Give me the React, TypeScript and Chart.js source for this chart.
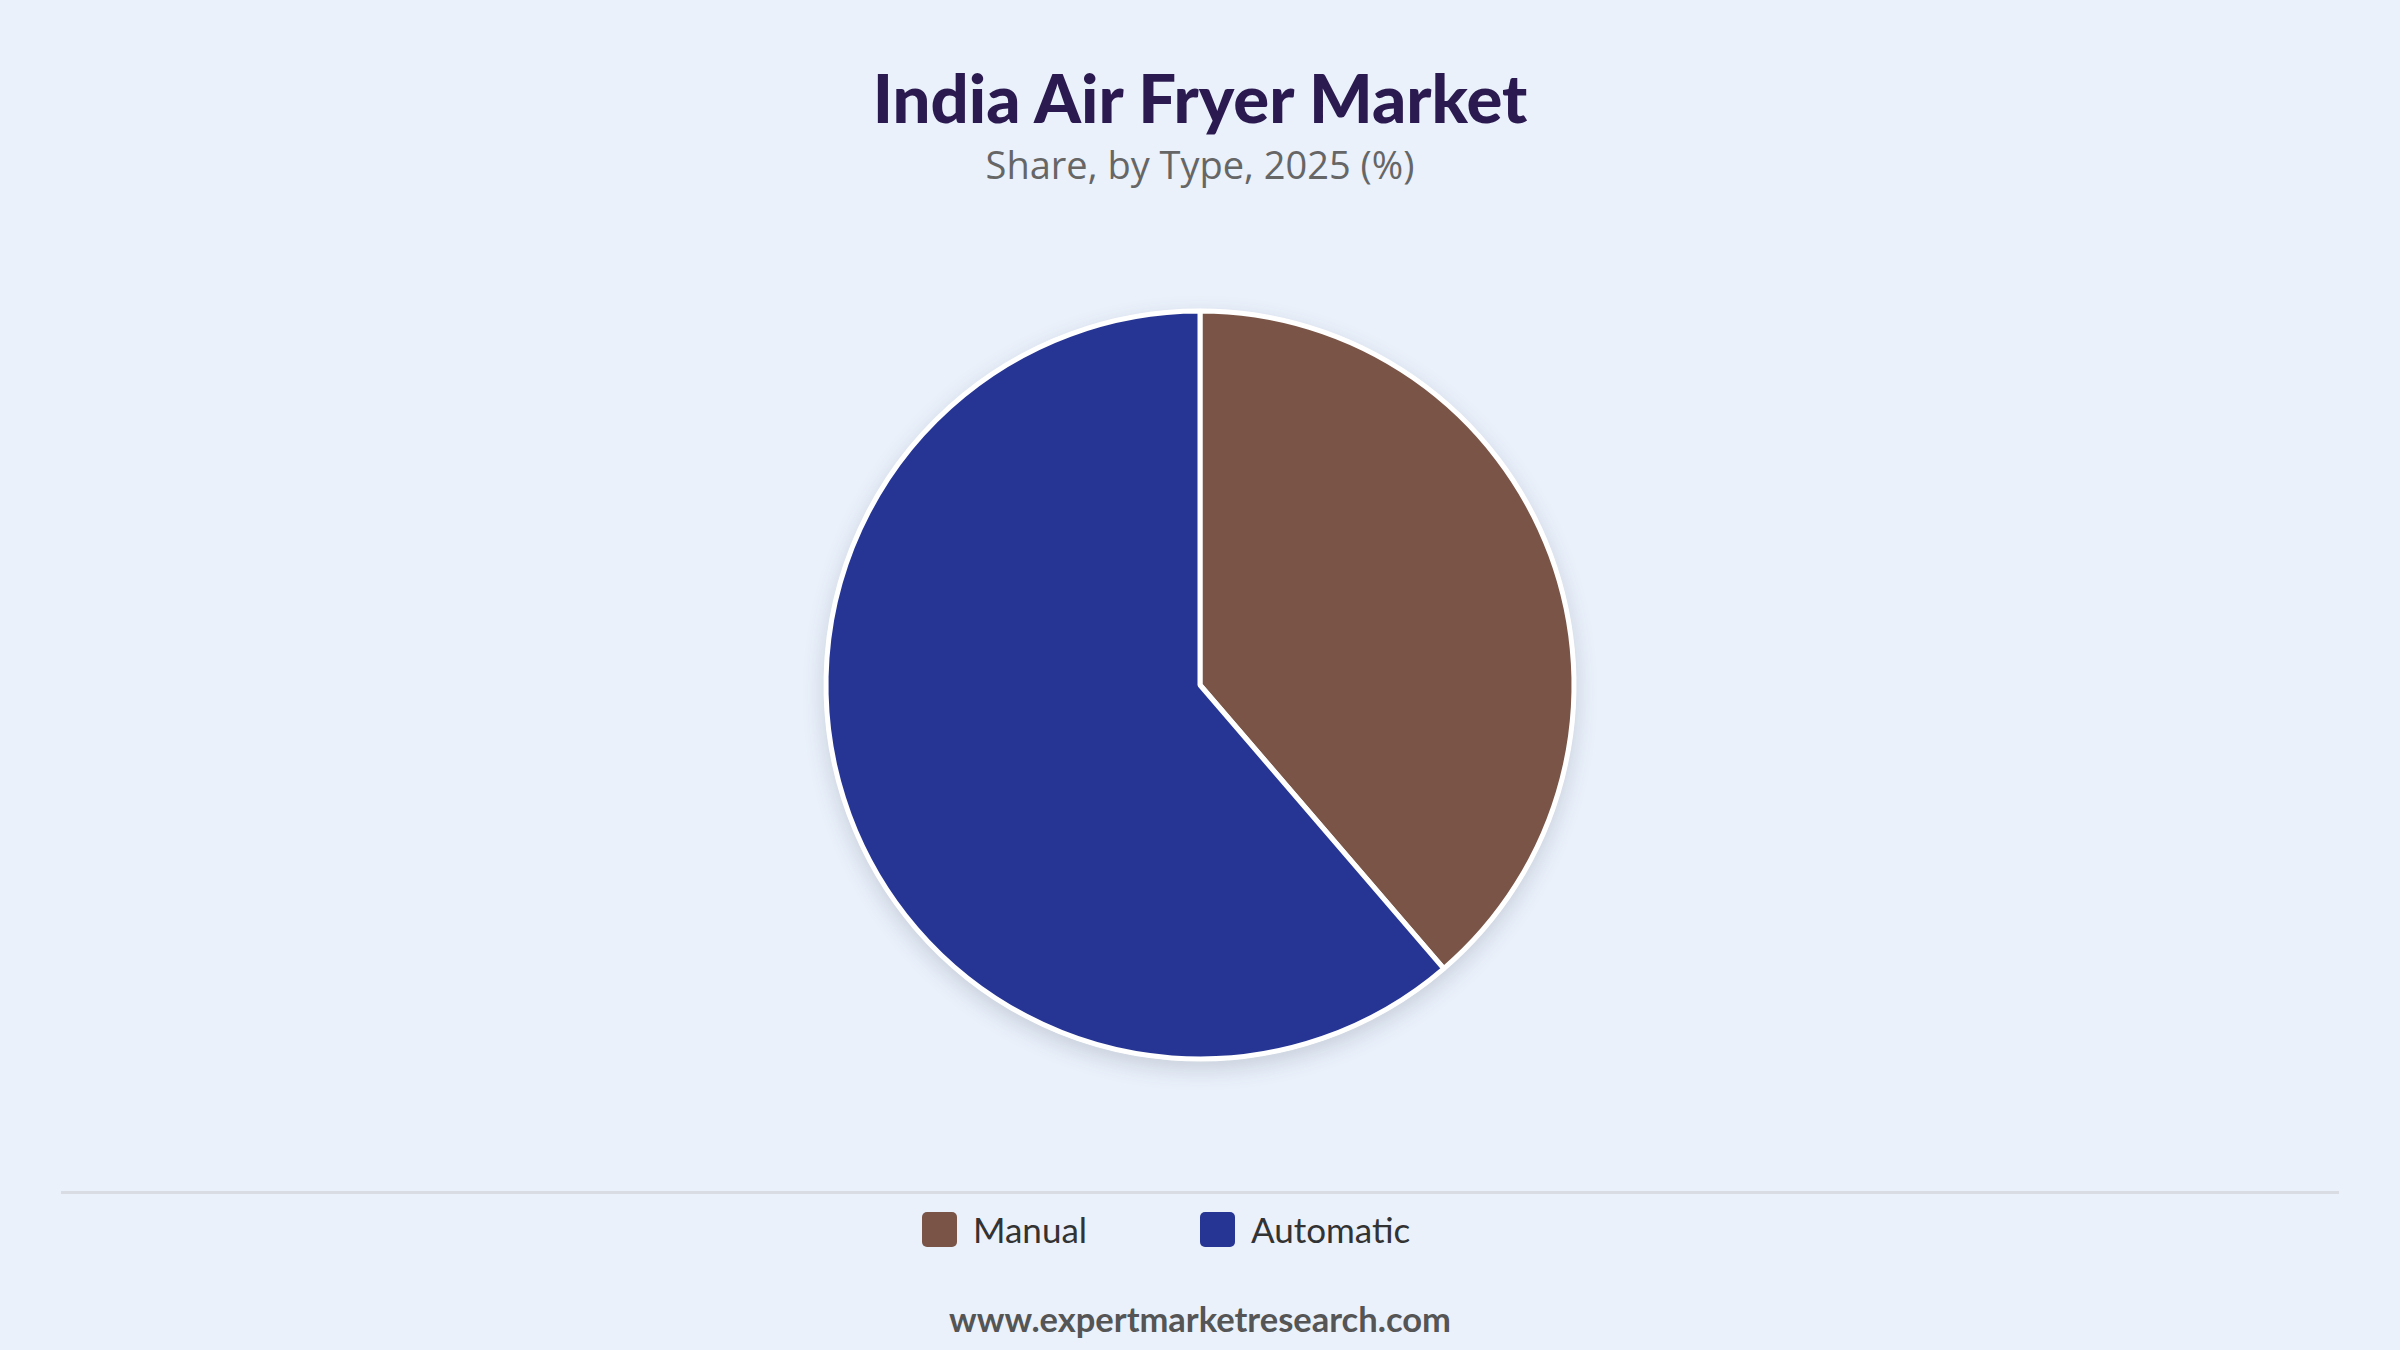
import { useEffect, useRef } from 'react';
import { Chart, registerables } from 'chart.js';

Chart.register(...registerables);

const categories = ['Manual', 'Automatic'];
const shares = [38.7, 61.3];
const colors = ['#7A5547', '#263593'];

const pageBg = '#EAF1FB';
const font = 'Lato, "Noto Sans", sans-serif';

// soft shadow under the whole pie, drawn before the slices
const pieShadow = {
  id: 'pieShadow',
  beforeDatasetsDraw(chart: any) {
    const arc = chart.getDatasetMeta(0).data[0];
    if (!arc) return;
    const { x, y, outerRadius } = arc.getProps(['x', 'y', 'outerRadius'], true);
    const ctx = chart.ctx;
    ctx.save();
    ctx.shadowColor = 'rgba(60, 70, 90, 0.2)';
    ctx.shadowBlur = 22;
    ctx.shadowOffsetY = 8;
    ctx.beginPath();
    ctx.arc(x, y, outerRadius + 2, 0, Math.PI * 2);
    ctx.fillStyle = '#fff';
    ctx.fill();
    ctx.restore();
  },
};

function SharePie() {
  const ref = useRef<HTMLCanvasElement>(null);

  useEffect(() => {
    if (!ref.current) return;
    const chart = new Chart(ref.current, {
      type: 'pie',
      data: {
        labels: categories,
        datasets: [{
          data: shares,
          backgroundColor: colors,
          borderColor: '#ffffff',
          borderWidth: 5,
          hoverOffset: 0,
          clip: false as any,
        }],
      },
      options: {
        responsive: false,
        devicePixelRatio: 1,
        animation: false,
        radius: 374,
        layout: { padding: 0 },
        plugins: {
          legend: { display: false },
          tooltip: { enabled: false },
          title: { display: false },
        },
      },
      plugins: [pieShadow],
    });
    return () => chart.destroy();
  }, []);

  return (
    <canvas
      ref={ref}
      width={900}
      height={900}
      style={{ position: 'absolute', left: 750, top: 235, width: 900, height: 900 }}
    />
  );
}

export default function App() {
  return (
    <div style={{ position: 'fixed', left: 0, top: 0, width: 2400, height: 1350, background: pageBg, fontFamily: font, overflow: 'hidden' }}>
      <div style={{ position: 'absolute', left: 0, top: 64, width: 2400, textAlign: 'center', fontSize: 67, lineHeight: 1, fontWeight: 900, color: '#2B1A4F' }}>
        India Air Fryer Market
      </div>
      <div style={{ position: 'absolute', left: 0, top: 145, width: 2400, textAlign: 'center', fontFamily: '"Open Sans", sans-serif', fontSize: 38, lineHeight: 1, color: '#666666' }}>
        Share, by Type, 2025 (%)
      </div>

      <SharePie />

      <div style={{ position: 'absolute', left: 61, top: 1191, width: 2278, height: 3, background: '#D9DDE3' }} />

      <div style={{ position: 'absolute', left: 922, top: 1212, display: 'flex' }}>
        {categories.map((c, i) => (
          <div key={c} style={{ width: 278, display: 'flex', alignItems: 'center' }}>
            <span style={{ width: 35, height: 35, borderRadius: 5, background: colors[i], display: 'inline-block', marginRight: 16 }} />
            <span style={{ fontSize: 35, lineHeight: '35px', color: '#333333' }}>{c}</span>
          </div>
        ))}
      </div>

      <div style={{ position: 'absolute', left: 0, top: 1302, width: 2400, textAlign: 'center', fontSize: 34.5, lineHeight: 1, fontWeight: 700, color: '#555555' }}>
        www.expertmarketresearch.com
      </div>
    </div>
  );
}
